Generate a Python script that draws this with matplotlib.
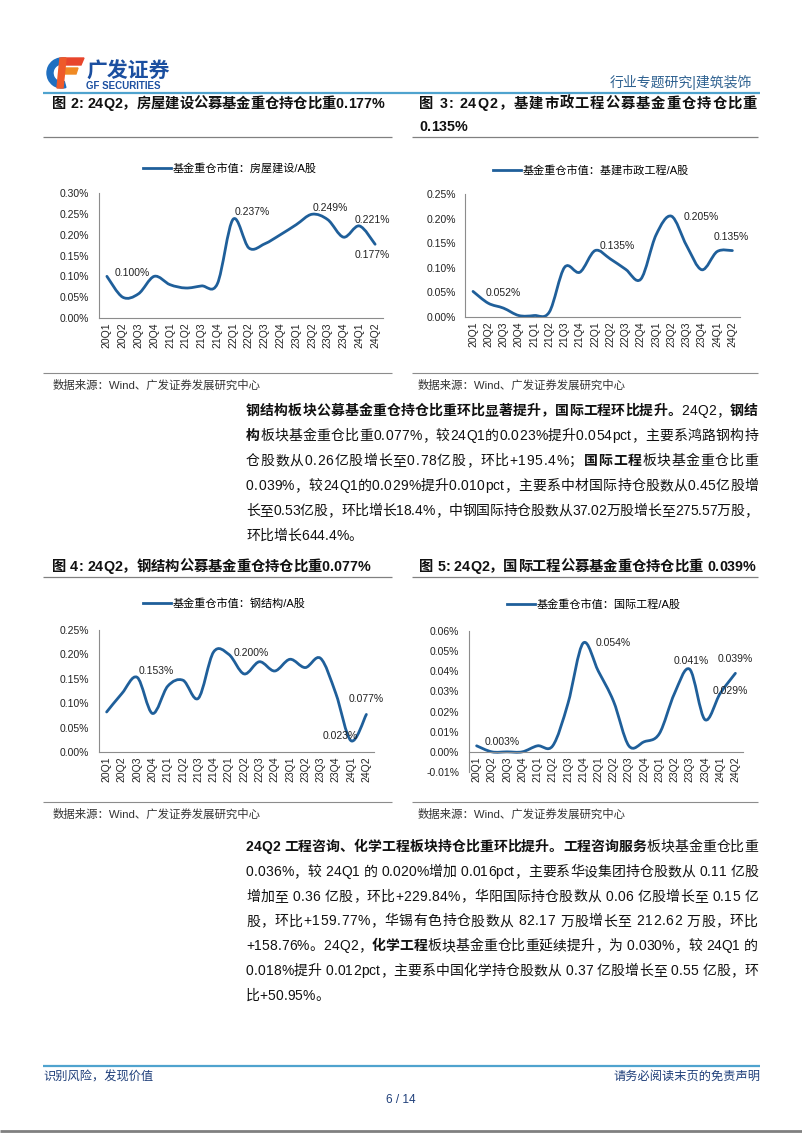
import numpy as np
import matplotlib
matplotlib.use("Agg")
import matplotlib.pyplot as plt
from matplotlib.path import Path
from matplotlib.patches import PathPatch, Polygon, Wedge
from matplotlib.lines import Line2D
from matplotlib.font_manager import FontProperties

FAMILY = ['Liberation Sans', 'Noto Sans CJK SC']
plt.rcParams['font.family'] = FAMILY

W, H = 802, 1133
BLUE = '#1F5F9A'
NAVY = '#1F3F7A'

# ---- data (percent of A-share market value held by funds) ----
quarters = ['20Q1', '20Q2', '20Q3', '20Q4', '21Q1', '21Q2', '21Q3', '21Q4',
            '22Q1', '22Q2', '22Q3', '22Q4', '23Q1', '23Q2', '23Q3', '23Q4',
            '24Q1', '24Q2']
house = [0.100, 0.050, 0.058, 0.100, 0.080, 0.072, 0.077, 0.082, 0.237,
         0.168, 0.178, 0.200, 0.224, 0.249, 0.236, 0.194, 0.221, 0.177]
infra = [0.052, 0.028, 0.018, 0.003, 0.003, 0.010, 0.101, 0.091, 0.135,
         0.118, 0.097, 0.077, 0.167, 0.205, 0.145, 0.096, 0.133, 0.135]
steel = [0.082, 0.120, 0.153, 0.079, 0.135, 0.147, 0.110, 0.205, 0.200,
         0.160, 0.185, 0.166, 0.190, 0.173, 0.192, 0.120, 0.023, 0.077]
intl = [0.003, 0.000, 0.000, 0.000, 0.003, 0.003, 0.024, 0.054, 0.040,
        0.025, 0.003, 0.005, 0.009, 0.029, 0.041, 0.016, 0.029, 0.039]

fig = plt.figure(figsize=(W / 100, H / 100), dpi=100)
page = fig.add_axes([0, 0, 1, 1])
page.set_xlim(0, W)
page.set_ylim(H, 0)
page.axis('off')
renderer = fig.canvas.get_renderer()


def box(left, top, right, bottom):
    return [left / W, 1 - bottom / H, (right - left) / W, (bottom - top) / H]


def hline(y, x0, x1, color='#808080', lw=0.9):
    page.plot([x0, x1], [y, y], color=color, lw=lw, solid_capstyle='butt')


def fp(size, bold=False):
    return FontProperties(family=FAMILY, size=size, weight='bold' if bold else 'normal')


def write_line(segs, x0, y, size, x1=None, color='#111111'):
    # draw a line char by char, stretched to x1 when given (justified text)
    chars = [(c, b) for text, b in segs for c in text]
    widths = [renderer.get_text_width_height_descent(c, fp(size, b), ismath=False)[0]
              for c, b in chars]
    gap = 0 if x1 is None else (x1 - x0 - sum(widths)) / (len(chars) - 1)
    x = x0
    for (c, b), w in zip(chars, widths):
        page.text(x, y, c, fontproperties=fp(size, b), color=color, ha='left', va='baseline')
        x += w + gap


def write_para(lines, x0, x1, y0, lh, size):
    for k, segs in enumerate(lines):
        last = k == len(lines) - 1
        write_line(segs, x0, y0 + k * lh, size, None if last else x1)


def smooth_path(x, y):
    pts = np.column_stack([x, y]).astype(float)
    n = len(pts)
    verts, codes = [pts[0]], [Path.MOVETO]
    for i in range(n - 1):
        p0 = pts[i - 1] if i > 0 else pts[i]
        p3 = pts[i + 2] if i + 2 < n else pts[i + 1]
        verts += [pts[i] + (pts[i + 1] - p0) / 6, pts[i + 1] - (p3 - pts[i]) / 6, pts[i + 1]]
        codes += [Path.CURVE4] * 3
    return Path(verts, codes)


def draw_chart(rect, values, ymin, ymax, step, legend_label, legend_xy, labels):
    ax = fig.add_axes(box(*rect))
    x = np.arange(len(quarters))
    for s in ['top', 'right']:
        ax.spines[s].set_visible(False)
    for s in ['left', 'bottom']:
        ax.spines[s].set_color('#8C8C8C')
        ax.spines[s].set_linewidth(0.8)
    ax.spines['bottom'].set_position(('data', 0))
    ax.add_patch(PathPatch(smooth_path(x, values), fill=False, edgecolor=BLUE,
                           lw=2.0, capstyle='round', joinstyle='round'))
    ax.set_xlim(-0.5, len(quarters) - 0.5)
    ax.set_ylim(ymin, ymax)
    ax.set_yticks(np.round(np.arange(ymin, ymax + step / 2, step), 4))
    ax.yaxis.set_major_formatter(lambda v, p: f'{v:.2f}%')
    ax.set_xticks(x)
    ax.set_xticklabels(quarters)
    ax.tick_params(axis='y', length=0, labelsize=7.5, pad=7, colors='#222222')
    ax.tick_params(axis='x', length=0, labelsize=7.5, pad=3, colors='#222222',
                   labelrotation=90)
    ax.patch.set_alpha(0)
    for idx, dx, dy, ha in labels:
        ax.annotate(f'{values[idx]:.3f}%', (idx, values[idx]), xytext=(dx, dy),
                    textcoords='offset pixels', ha=ha, va='center', fontsize=7.5,
                    color='#222222')
    handle = Line2D([], [], color=BLUE, lw=2.0)
    ax.legend([handle], [legend_label], loc='center left',
              bbox_to_anchor=(legend_xy[0] / W, 1 - legend_xy[1] / H),
              bbox_transform=fig.transFigure, frameon=False, fontsize=8,
              handlelength=2.5, handletextpad=0.2, borderpad=0, borderaxespad=0)
    return ax


# ---- header ----
page.add_patch(Wedge((62, 73), 15, 75, 285, width=6, color='#1F6FC0'))
page.add_patch(Polygon([(62, 58), (84, 58), (81, 65), (60, 65)], color='#E8452C'))
page.add_patch(Polygon([(60, 68), (78, 68), (76, 74), (59, 74)], color='#F08A24'))
page.add_patch(Polygon([(60, 58), (66, 58), (63, 88), (57, 88)], color='#EE5A2A'))
page.text(86, 72, '广发证券', fontsize=15, fontweight='bold', color='#1B4FA0',
          ha='left', va='center')
page.text(86, 86, 'GF SECURITIES', fontsize=7, fontweight='bold', color='#1B4FA0',
          ha='left', va='center')
page.text(752, 82, '行业专题研究|建筑装饰', fontsize=10, color='#2E6190',
          ha='right', va='center')
hline(93, 43, 760, color='#4FA3CE', lw=1.6)

# ---- figure titles ----
write_line([('图 2: 24Q2，房屋建设公募基金重仓持仓比重0.177%', True)], 52, 108, 10.3)
write_line([('图 3: 24Q2，基建市政工程公募基金重仓持仓比重', True)], 419, 108, 10.3, x1=757)
write_line([('0.135%', True)], 419, 131, 10.3)
hline(137, 43, 392)
hline(137, 412, 758)

write_line([('图 4: 24Q2，钢结构公募基金重仓持仓比重0.077%', True)], 52, 571, 10.3)
write_line([('图 5: 24Q2，国际工程公募基金重仓持仓比重 0.039%', True)], 419, 571, 10.3)
hline(577, 43, 392)
hline(577, 412, 758)

# ---- charts ----
draw_chart((99, 193, 383, 318), house, 0.0, 0.30, 0.05, '基金重仓市值：房屋建设/A股', (143, 168),
           [(0, 8, 3, 'left'), (8, 2, 7, 'left'), (13, 1, 6, 'left'),
            (16, -5, 6, 'left'), (17, -20, -11, 'left')])
draw_chart((465.4, 194, 740, 317), infra, 0.0, 0.25, 0.05, '基金重仓市值：基建市政工程/A股', (493, 170),
           [(0, 13, -2, 'left'), (8, 5, 5, 'left'), (13, 12, -1, 'left'),
            (17, -1, 14, 'center')])
draw_chart((99, 630, 374, 752), steel, 0.0, 0.25, 0.05, '基金重仓市值：钢结构/A股', (143, 604),
           [(2, 1, 6, 'left'), (8, 5, 1, 'left'), (16, -28, 5, 'left'),
            (17, 0, 15, 'center')])
draw_chart((469, 631, 743, 772), intl, -0.01, 0.06, 0.01, '基金重仓市值：国际工程/A股', (507, 605),
           [(0, 8, 4, 'left'), (7, 12, 0, 'left'), (14, 2, 8, 'center'),
            (17, 0, 14, 'center'), (16, -8, 2, 'left')])

# ---- sources ----
for sx, ly, lx0, lx1 in [(53, 373, 43, 392), (418, 373, 412, 758),
                         (53, 802, 43, 392), (418, 802, 412, 758)]:
    hline(ly, lx0, lx1, color='#8C8C8C', lw=0.8)
    page.text(sx, ly + 12, '数据来源：Wind、广发证券发展研究中心', fontsize=8.2,
              color='#333333', ha='left', va='center')

# ---- body text ----
para1 = [
    [('钢结构板块公募基金重仓持仓比重环比显著提升，国际工程环比提升。', True), ('24Q2，', False), ('钢结', True)],
    [('构', True), ('板块基金重仓比重0.077%，较24Q1的0.023%提升0.054pct，主要系鸿路钢构持', False)],
    [('仓股数从0.26亿股增长至0.78亿股，环比+195.4%；', False), ('国际工程', True), ('板块基金重仓比重', False)],
    [('0.039%，较24Q1的0.029%提升0.010pct，主要系中材国际持仓股数从0.45亿股增', False)],
    [('长至0.53亿股，环比增长18.4%，中钢国际持仓股数从37.02万股增长至275.57万股，', False)],
    [('环比增长644.4%。', False)],
]
para2 = [
    [('24Q2 工程咨询、化学工程板块持仓比重环比提升。工程咨询服务', True), ('板块基金重仓比重', False)],
    [('0.036%，较 24Q1 的 0.020%增加 0.016pct，主要系华设集团持仓股数从 0.11 亿股', False)],
    [('增加至 0.36 亿股，环比+229.84%，华阳国际持仓股数从 0.06 亿股增长至 0.15 亿', False)],
    [('股，环比+159.77%，华锡有色持仓股数从 82.17 万股增长至 212.62 万股，环比', False)],
    [('+158.76%。24Q2，', False), ('化学工程', True), ('板块基金重仓比重延续提升，为 0.030%，较 24Q1 的', False)],
    [('0.018%提升 0.012pct，主要系中国化学持仓股数从 0.37 亿股增长至 0.55 亿股，环', False)],
    [('比+50.95%。', False)],
]
write_para(para1, 246, 758, 415, 25, 10)
write_para(para2, 246, 758, 851, 24.8, 10)

# ---- footer ----
hline(1066, 43, 760, color='#4FA3CE', lw=1.6)
page.text(43, 1077, '识别风险，发现价值', fontsize=8.8, color=NAVY, ha='left', va='center')
page.text(760, 1077, '请务必阅读末页的免责声明', fontsize=8.8, color=NAVY, ha='right', va='center')
page.text(401, 1100, '6 / 14', fontsize=8.5, color=NAVY, ha='center', va='center')
hline(1131, 0, W, color='#808080', lw=2)

fig.savefig('out.png', dpi=100)
